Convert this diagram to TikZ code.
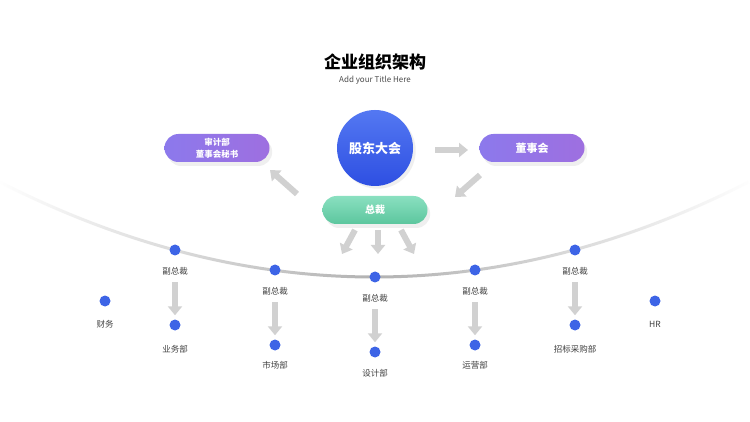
\documentclass[tikz,border=0pt]{standalone}
\usepackage{fontspec}
\setmainfont{Noto Sans CJK SC}
\usetikzlibrary{arrows.meta,shadows,fadings}
\definecolor{dotb}{HTML}{3D64E6}
\definecolor{pa}{HTML}{8C79EC}
\definecolor{pb}{HTML}{9E6FE0}
\definecolor{ca}{HTML}{5478F2}
\definecolor{cb}{HTML}{2E4FE2}
\definecolor{ga}{HTML}{8AE0C0}
\definecolor{gb}{HTML}{5CC69E}
\tikzfading[name=fadeends,left color=transparent!100,right color=transparent!100,middle color=transparent!0]
\begin{document}
\begin{tikzpicture}[x=1pt,y=-1pt,
  pill/.style={rounded corners=14pt,minimum width=105pt,minimum height=28pt,text=white,font=\bfseries\fontsize{9}{10}\selectfont,align=center,drop shadow={opacity=0.12,shadow yshift=-4pt}},
  dot/.style={circle,fill=dotb,minimum size=11pt,inner sep=0pt},
  lab/.style={font=\fontsize{8.5}{9}\selectfont,text=black!75},
  garr/.style={draw=black!18,line width=6pt,-{Triangle[length=9pt,width=14pt]}}]
\useasboundingbox (0,0) rectangle (750,422);
\fill[white] (0,0) rectangle (750,422);
\coordinate (cl) at (0,182); \coordinate (cr) at (750,182);
\draw[line width=3pt,black!30,path fading=fadeends,fit fading=true] (cl) .. controls (250,308.7) and (500,308.7) .. (cr);
\node[font=\bfseries\fontsize{17}{18}\selectfont] (t) at (375,62) {企业组织架构};
\node[font=\fontsize{8}{9}\selectfont,text=black!70] (st) at (375,80) {Add your Title Here};
\node[circle,minimum size=76pt,top color=ca,bottom color=cb,text=white,font=\bfseries\fontsize{13}{14}\selectfont,drop shadow={opacity=0.12}] (gd) at (375,148) {股东大会};
\node[pill,left color=pa,right color=pb,font=\bfseries\fontsize{8.5}{11.5}\selectfont] (sj) at (217,148) {审计部\\董事会秘书};
\node[pill,left color=pa,right color=pb,font=\bfseries\fontsize{11}{12}\selectfont] (ds) at (532,148) {董事会};
\node[pill,top color=ga,bottom color=gb,font=\bfseries\fontsize{10}{11}\selectfont] (zc) at (375,210) {总裁};
\coordinate (a1) at (435,150); \coordinate (a2) at (468,150);
\draw[garr] (a1) -- (a2);
\coordinate (b1) at (480,175); \coordinate (b2) at (455,197);
\draw[garr] (b1) -- (b2);
\coordinate (c1) at (297,194); \coordinate (c2) at (270,170);
\draw[garr] (c1) -- (c2);
\foreach \sx/\ex in {355/342,378/378,401/414}{
  \draw[garr] (\sx,230) -- (\ex,254);}
\foreach \n/\x/\y/\yy in {1/175/250/325,2/275/270/345,3/375/277/352,4/475/270/345,5/575/250/325}{
  \node[dot] (v\n) at (\x,\y) {};
  \node[lab] (vl\n) at (\x,\y+21) {副总裁};
  \node[dot] (s\n) at (\x,\yy) {};
  \draw[garr] ([yshift=-4pt]vl\n.south) -- ([yshift=4pt]s\n.north);
}
\node[lab] at (175,349) {业务部};
\node[lab] at (275,365) {市场部};
\node[lab] at (375,373) {设计部};
\node[lab] at (475,365) {运营部};
\node[lab] at (575,349) {招标采购部};
\node[dot] (cw) at (105,301) {};
\node[lab] at (105,324) {财务};
\node[dot] (hr) at (655,301) {};
\node[lab] at (655,324) {HR};
\end{tikzpicture}
\end{document}
